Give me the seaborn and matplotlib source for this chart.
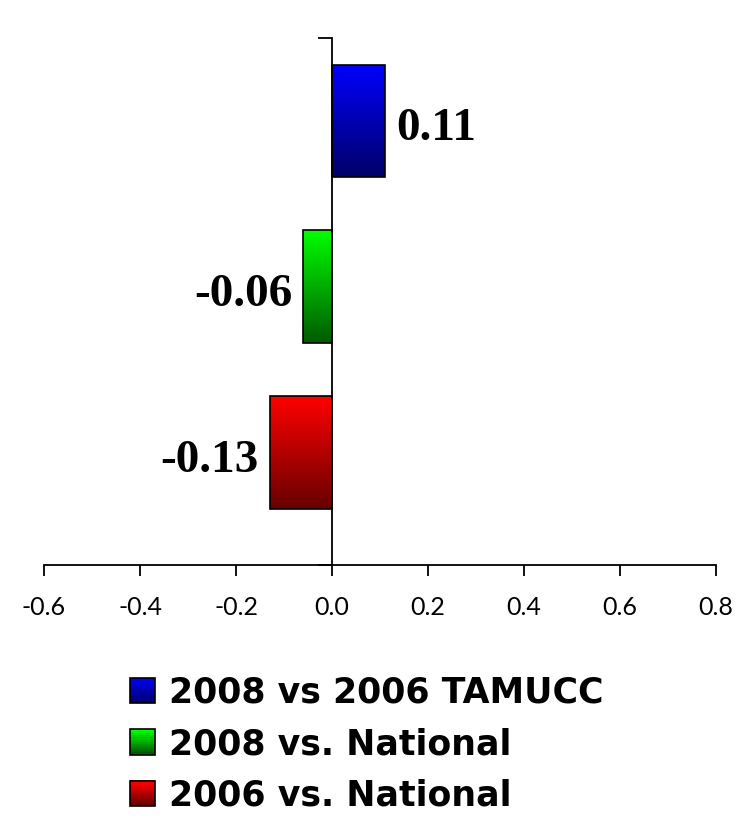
import numpy as np
import pandas as pd
import matplotlib
matplotlib.use("Agg")
import matplotlib.pyplot as plt
import seaborn as sns
from matplotlib.colors import LinearSegmentedColormap
from matplotlib.patches import Rectangle
from matplotlib.legend_handler import HandlerBase

# --- Data ---
CATEGORIES = ["2008 vs 2006 TAMUCC", "2008 vs. National", "2006 vs. National"]
VALUES = [0.11, -0.06, -0.13]
LABELS = ["0.11", "-0.06", "-0.13"]
X_TICKS = [-0.6, -0.4, -0.2, 0.0, 0.2, 0.4, 0.6, 0.8]

# gradient colours (top -> bottom)
GRADIENTS = [("#0000FF", "#000066"), ("#00FF00", "#005A00"), ("#FF0000", "#660000")]

df = pd.DataFrame({"group": CATEGORIES, "value": VALUES})

sns.set_style("white")
plt.rcParams["text.color"] = "black"

fig = plt.figure(figsize=(7.52, 8.22), dpi=100)
ax = fig.add_axes([44 / 752, 1 - 565 / 822, 672 / 752, 527 / 822])

sns.barplot(data=df, x="value", y="group", order=CATEGORIES, orient="h",
            width=0.68, color="white", edgecolor="black", linewidth=1.2, ax=ax)

# gradient fill, clipped to each bar
for bar, (c_top, c_bot) in zip(ax.patches, GRADIENTS):
    x0, y0 = bar.get_x(), bar.get_y()
    w, h = bar.get_width(), bar.get_height()
    cmap = LinearSegmentedColormap.from_list("g", [c_top, c_bot])
    grad = np.linspace(0, 1, 256).reshape(-1, 1)
    im = ax.imshow(grad, cmap=cmap, aspect="auto",
                   extent=[min(x0, x0 + w), max(x0, x0 + w), y0 + h, y0],
                   origin="upper", zorder=bar.get_zorder() - 0.1)
    im.set_clip_path(bar)
    bar.set_facecolor("none")
    bar.set_zorder(3)

Y_BOTTOM = 2.68
ax.set_xlim(-0.6, 0.8)
ax.set_ylim(Y_BOTTOM, -0.5)
ax.set_xticks(X_TICKS)
ax.set_xticklabels([f"{t:.1f}" for t in X_TICKS], fontsize=18, family="Lato")
ax.set_yticks([-0.5, Y_BOTTOM])
ax.set_yticklabels([])
ax.set_xlabel("")
ax.set_ylabel("")

ax.spines["left"].set_position(("data", 0))
ax.spines["top"].set_visible(False)
ax.spines["right"].set_visible(False)
for s in ["left", "bottom"]:
    ax.spines[s].set_linewidth(1.3)
    ax.spines[s].set_color("black")
ax.tick_params(axis="x", bottom=True, direction="out", length=8, width=1.3, pad=14,
               colors="black", labelcolor="black")
ax.tick_params(axis="y", left=True, direction="out", length=10, width=1.3, colors="black")

# value labels, nudged slightly below bar centre
texts = ax.bar_label(ax.containers[0], labels=LABELS, padding=8, fontsize=34,
                     fontweight="bold", family="Liberation Serif", color="black")
for t in texts:
    t.xyann = (t.xyann[0], -6)


class GradientHandler(HandlerBase):
    def __init__(self, top, bottom):
        super().__init__()
        self.top, self.bottom = top, bottom

    def create_artists(self, legend, orig_handle, xdescent, ydescent, width, height, fontsize, trans):
        cmap = LinearSegmentedColormap.from_list("g", [self.top, self.bottom])
        size = height * 1.05
        x = -xdescent + (width - size)
        y = -ydescent + (height - size) / 2
        n = 12
        arts = []
        for i in range(n):
            arts.append(Rectangle((x, y + size * (n - 1 - i) / n), size, size / n + 0.3,
                                  facecolor=cmap(i / (n - 1)), edgecolor="none", transform=trans))
        arts.append(Rectangle((x, y), size, size, facecolor="none",
                              edgecolor="black", linewidth=1.2, transform=trans))
        return arts


handles = [Rectangle((0, 0), 1, 1) for _ in CATEGORIES]
handler_map = {h: GradientHandler(t, b) for h, (t, b) in zip(handles, GRADIENTS)}
leg = fig.legend(handles, CATEGORIES, handler_map=handler_map, loc="upper left",
                 bbox_to_anchor=(112 / 752, 1 - 662 / 822), frameon=False,
                 prop={"family": "DejaVu Sans", "weight": "bold", "size": 25},
                 handlelength=0.85, handletextpad=0.4, labelspacing=0.5, borderaxespad=0)
for t in leg.get_texts():
    t.set_color("black")

fig.savefig("out.png", dpi=100)
